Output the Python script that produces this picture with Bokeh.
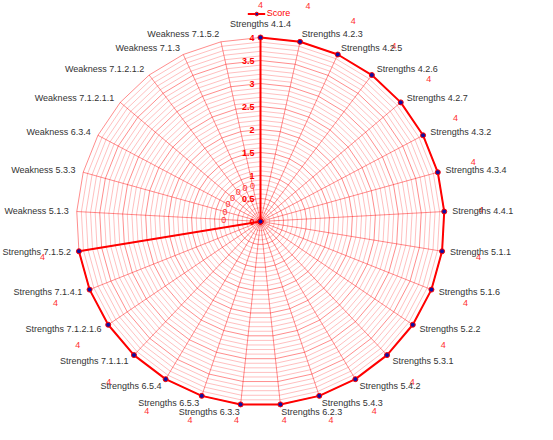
import numpy as np
from bokeh.plotting import figure
from bokeh.models import ColumnDataSource, Legend, LegendItem, Range1d
from bokeh.core.properties import value
from bokeh.embed import file_html
from bokeh.resources import INLINE

# ---------------- data ----------------
categories = [
    "Strengths 4.1.4", "Strengths 4.2.3", "Strengths 4.2.5", "Strengths 4.2.6",
    "Strengths 4.2.7", "Strengths 4.3.2", "Strengths 4.3.4", "Strengths 4.4.1",
    "Strengths 5.1.1", "Strengths 5.1.6", "Strengths 5.2.2", "Strengths 5.3.1",
    "Strengths 5.4.2", "Strengths 5.4.3", "Strengths 6.2.3", "Strengths 6.3.3",
    "Strengths 6.5.3", "Strengths 6.5.4", "Strengths 7.1.1.1", "Strengths 7.1.2.1.6",
    "Strengths 7.1.4.1", "Strengths 7.1.5.2", "Weakness 5.1.3", "Weakness 5.3.3",
    "Weakness 6.3.4", "Weakness 7.1.2.1.1", "Weakness 7.1.2.1.2", "Weakness 7.1.3",
    "Weakness 7.1.5.2",
]
scores = [4, 4, 4, 4, 4, 4, 4, 4, 4, 4, 4, 4, 4, 4, 4, 4, 4, 4, 4, 4, 4, 4,
          0, 0, 0, 0, 0, 0, 0]
series_name = "Score"
tick_values = [0, 0.5, 1, 1.5, 2, 2.5, 3, 3.5, 4]
tick_labels = ["0", "0.5", "1", "1.5", "2", "2.5", "3", "3.5", "4"]
axis_max = 4
minor_step = 0.1

# ---------------- geometry ----------------
W, H = 537, 424
PX = 46.0                     # pixels per data unit
CX, CY = 260.0, 221.0         # centre in figure pixels (from top-left)
x0, x1 = -CX / PX, (W - CX) / PX
y0, y1 = -(H - CY) / PX, CY / PX

N = len(categories)
theta = np.pi / 2 - 2 * np.pi * np.arange(N) / N
cos_t, sin_t = np.cos(theta), np.sin(theta)

FONT_NAME = "Liberation Sans"
FONT = value(FONT_NAME)

p = figure(width=W, height=H, output_backend="svg", toolbar_location=None,
           x_range=Range1d(x0, x1), y_range=Range1d(y0, y1),
           x_axis_location=None, y_axis_location=None,
           min_border=0, outline_line_color=None)
p.grid.visible = False
p.background_fill_color = "white"

# grid polygons
n_rings = int(round(axis_max / minor_step))
minor_xs, minor_ys, major_xs, major_ys = [], [], [], []
for k in range(1, n_rings + 1):
    r = k * minor_step
    xs = list(r * cos_t) + [r * cos_t[0]]
    ys = list(r * sin_t) + [r * sin_t[0]]
    if abs((r / 0.5) - round(r / 0.5)) < 1e-6:
        major_xs.append(xs); major_ys.append(ys)
    else:
        minor_xs.append(xs); minor_ys.append(ys)
p.multi_line(minor_xs, minor_ys, line_color="#ff0000", line_alpha=0.25, line_width=1)
p.multi_line(major_xs, major_ys, line_color="#ff0000", line_alpha=0.45, line_width=1)

# spokes
spoke_xs = [[0, axis_max * c] for c in cos_t]
spoke_ys = [[0, axis_max * s] for s in sin_t]
p.multi_line(spoke_xs, spoke_ys, line_color="#ff0000", line_alpha=0.45, line_width=1)

# tick labels
p.text(x=[0] * len(tick_values), y=tick_values, text=tick_labels,
       x_offset=-6, text_align="right", text_baseline="middle",
       text_font=FONT, text_font_size="9px", text_font_style="bold",
       text_color="#ff0000")

# data series
sc = np.array(scores, dtype=float)
px = sc * cos_t
py = sc * sin_t
line_r = p.line(list(px) + [px[0]], list(py) + [py[0]], line_color="#ff0000", line_width=2)
mark_r = p.scatter(px, py, size=5, marker="circle", fill_color="#1010a0",
                   line_color="#ff0000", line_width=1)

# value labels (radially outside each point)
lr = sc + 0.8
lx = lr * cos_t
ly = np.clip(lr * sin_t, y0 + 4.5 / PX, y1 - 4.0 / PX)
p.text(x=lx, y=ly, text=[f"{v:g}" for v in scores], text_align="center",
       text_baseline="middle", text_font=FONT, text_font_size="9px",
       text_color="#ff3030")

# category labels
ex, ey = axis_max * cos_t, axis_max * sin_t
groups = {"left": [], "right": [], "center": []}
for i in range(N):
    if abs(cos_t[i]) < 0.05:
        groups["center"].append(i)
    elif cos_t[i] > 0:
        groups["left"].append(i)
    else:
        groups["right"].append(i)
for align, idx in groups.items():
    if not idx:
        continue
    idx = np.array(idx)
    xo = 8 * cos_t[idx]
    yo = np.where(np.abs(cos_t[idx]) < 0.05, -14 * np.sign(sin_t[idx]), -7.5 * sin_t[idx])
    src = ColumnDataSource(dict(x=ex[idx], y=ey[idx], t=[categories[i] for i in idx],
                                xo=xo, yo=yo))
    p.text(x="x", y="y", text="t", x_offset="xo", y_offset="yo", source=src,
           text_align=align, text_baseline="middle", text_font=FONT,
           text_font_size="9px", text_color="#333333")

legend = Legend(items=[LegendItem(label=series_name, renderers=[line_r, mark_r])],
                location="top_center", orientation="horizontal",
                background_fill_alpha=0, border_line_alpha=0,
                padding=0, margin=8, spacing=0,
                glyph_width=18, glyph_height=9, label_height=9, label_standoff=2,
                label_text_font=FONT_NAME, label_text_font_size="9px",
                label_text_color="#ff0000")
p.add_layout(legend)

open("out.html", "w").write(file_html(p, INLINE))
